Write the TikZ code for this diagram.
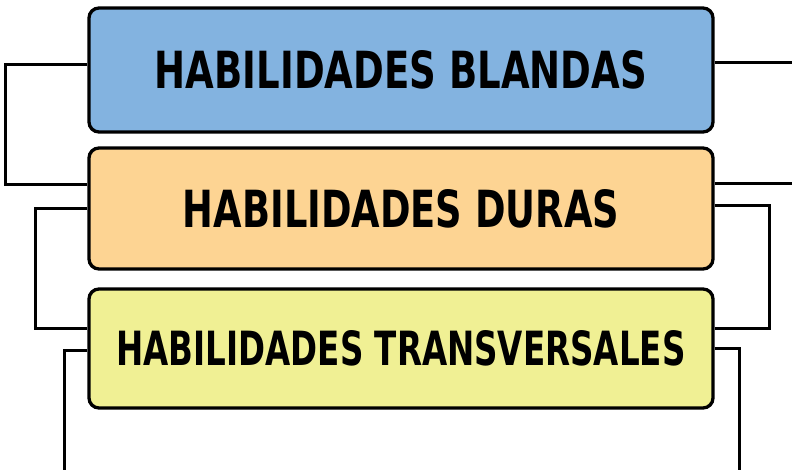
\documentclass[tikz,border=0pt]{standalone}
\usepackage{fontspec}
\usepackage{graphicx}
\newfontfamily\lblfont{DejaVu Sans}
\definecolor{boxblue}{RGB}{131,179,224}
\definecolor{boxorange}{RGB}{253,212,147}
\definecolor{boxyellow}{RGB}{240,240,148}
\newcommand{\lbl}[3]{\resizebox{#1}{#2}{\lblfont\bfseries #3}}
\begin{document}
\begin{tikzpicture}[x=1pt,y=-1pt,
  skillbox/.style={draw=black, line width=3.3pt, rounded corners=10pt, inner sep=0pt,
    minimum width=624pt, text=black},
  conn/.style={draw=black, line width=3pt, line join=miter}]
\useasboundingbox (0,0) rectangle (792,469);
\node[skillbox, fill=boxblue, minimum height=124pt] (b1) at (401,70)
  {\lbl{492pt}{38pt}{HABILIDADES BLANDAS}};
\node[skillbox, fill=boxorange, minimum height=121pt] (b2) at (401,208.5)
  {\lbl{436pt}{38pt}{HABILIDADES DURAS}};
\node[skillbox, fill=boxyellow, minimum height=119pt] (b3) at (401,348.5)
  {\lbl{569pt}{35pt}{HABILIDADES TRANSVERSALES}};
\coordinate (r1end) at (792,62);
\coordinate (r2end) at (792,183);
\coordinate (l3end) at (64,470);
\coordinate (r4end) at (739,470);
% left connectors
\draw[conn] ([yshift=6pt]b1.west) -- ++(-82pt,0) |- ([yshift=24.5pt]b2.west);
\draw[conn] ([yshift=0.5pt]b2.west) -- ++(-52pt,0) |- ([yshift=20.5pt]b3.west);
\draw[conn] ([yshift=-1.5pt]b3.west) -| (l3end);
% right connectors
\draw[conn] ([yshift=8pt]b1.east) -- (r1end);
\draw[conn] ([yshift=25.5pt]b2.east) -- (r2end);
\draw[conn] ([yshift=3.5pt]b2.east) -- ++(55pt,0) |- ([yshift=20.5pt]b3.east);
\draw[conn] ([yshift=0.5pt]b3.east) -| (r4end);
\end{tikzpicture}
\end{document}
